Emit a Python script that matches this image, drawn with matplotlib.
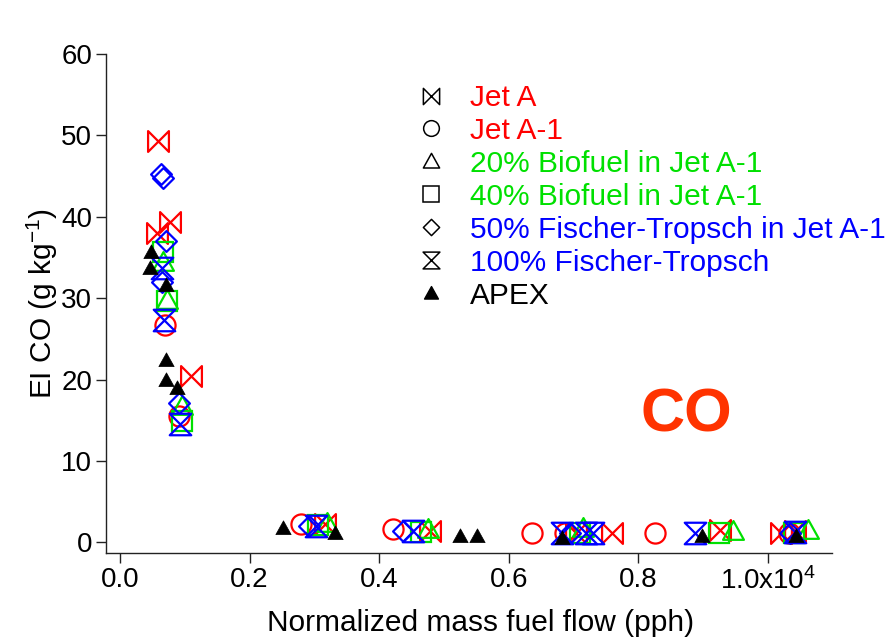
import matplotlib
matplotlib.use("Agg")
import matplotlib.pyplot as plt
from matplotlib.path import Path
from matplotlib.lines import Line2D
from matplotlib.ticker import FixedLocator, FuncFormatter

plt.rcParams['font.family'] = ['Liberation Sans', 'DejaVu Sans']
plt.rcParams['mathtext.fontset'] = 'custom'
plt.rcParams['mathtext.rm'] = 'Liberation Sans'
plt.rcParams['mathtext.it'] = 'Liberation Sans'

# fuel flow (pph) and EI CO (g/kg) for each fuel
jet_a_x = [586, 771, 576, 1091, 3163, 4783, 7046, 7587, 9259, 10210, 10415]
jet_a_y = [49.3, 39.4, 38.0, 20.4, 2.3, 1.35, 1.15, 1.15, 1.55, 1.15, 1.35]

jet_a1_x = [694, 916, 2788, 4217, 6352, 6867, 8256, 10330]
jet_a1_y = [26.7, 15.5, 2.3, 1.6, 1.15, 1.2, 1.15, 1.2]

bio20_x = [668, 720, 952, 3189, 4757, 7149, 9465, 10620]
bio20_y = [34.5, 29.8, 16.7, 2.4, 1.6, 1.75, 1.35, 1.55]

bio40_x = [668, 720, 952, 3055, 4650, 7098, 9248, 10400]
bio40_y = [35.7, 29.6, 14.9, 2.2, 1.3, 1.15, 1.1, 1.2]

ft50_x = [637, 668, 705, 643, 916, 2916, 4371, 6950, 10338]
ft50_y = [45.3, 44.8, 37.0, 32.0, 17.1, 2.0, 1.35, 1.15, 1.15]

ft100_x = [643, 684, 926, 3024, 4525, 6815, 7200, 7303, 8873, 10415]
ft100_y = [33.7, 27.3, 14.5, 2.0, 1.35, 1.15, 1.15, 1.15, 1.15, 1.25]

apex_x = [478, 463, 705, 705, 705, 884, 2510, 3317, 5246, 5503, 6815, 8976, 10440]
apex_y = [35.7, 33.7, 31.6, 22.4, 20.0, 19.0, 1.8, 1.15, 0.75, 0.75, 0.55, 0.75, 0.8]

x_ticks = [0, 2000, 4000, 6000, 8000, 10000]
y_ticks = [0, 10, 20, 30, 40, 50, 60]

RED = '#ff0000'
GREEN = '#00e000'
BLUE = '#0000ff'

# custom marker shapes
bowtie = Path([(-1, 1), (1, -1), (1, 1), (-1, -1), (-1, 1)],
              [Path.MOVETO, Path.LINETO, Path.LINETO, Path.LINETO, Path.CLOSEPOLY])
hourglass = Path([(-1, 1), (1, 1), (-1, -1), (1, -1), (-1, 1)],
                 [Path.MOVETO, Path.LINETO, Path.LINETO, Path.LINETO, Path.CLOSEPOLY])
diamond = Path([(0, 1), (1, 0), (0, -1), (-1, 0), (0, 1)],
               [Path.MOVETO, Path.LINETO, Path.LINETO, Path.LINETO, Path.CLOSEPOLY])
triangle = Path([(0, 1), (1, -0.8), (-1, -0.8), (0, 1)],
                [Path.MOVETO, Path.LINETO, Path.LINETO, Path.CLOSEPOLY])

series = [
    (jet_a_x, jet_a_y, bowtie, RED, 15, 'Jet A'),
    (jet_a1_x, jet_a1_y, 'o', RED, 14.5, 'Jet A-1'),
    (bio20_x, bio20_y, triangle, GREEN, 15, '20% Biofuel in Jet A-1'),
    (bio40_x, bio40_y, 's', GREEN, 14, '40% Biofuel in Jet A-1'),
    (ft50_x, ft50_y, diamond, BLUE, 15, '50% Fischer-Tropsch in Jet A-1'),
    (ft100_x, ft100_y, hourglass, BLUE, 15.5, '100% Fischer-Tropsch'),
]

fig = plt.figure(figsize=(8.9, 6.43), dpi=100)
ax = fig.add_axes([106 / 890, 1 - 553 / 643, 726 / 890, 499 / 643])

for xs, ys, mk, col, ms, lab in series:
    ax.plot(xs, ys, ls='none', marker=mk, ms=ms, mfc='none', mec=col, mew=1.6)
ax.plot(apex_x, apex_y, ls='none', marker=triangle, ms=11, mfc='black', mec='black', mew=0.5)

ax.set_xlim(-216, 10990)
ax.set_ylim(-1.3, 60)

for side in ['top', 'right']:
    ax.spines[side].set_visible(False)
for side in ['left', 'bottom']:
    ax.spines[side].set_linewidth(1.0)
    ax.spines[side].set_color('#222222')

ax.xaxis.set_major_locator(FixedLocator(x_ticks))
ax.yaxis.set_major_locator(FixedLocator(y_ticks))


def fmt_x(v, pos):
    if v == 10000:
        return r'1.0x10$^{4}$'
    return '%.1f' % (v / 10000)


ax.xaxis.set_major_formatter(FuncFormatter(fmt_x))
ax.tick_params(axis='both', direction='out', length=7, width=1.0, colors='#222222',
               labelsize=20, labelcolor='black', pad=3)

ax.set_xlabel('Normalized mass fuel flow (pph)', fontsize=21.5)
ax.xaxis.set_label_coords(0.516, -0.113)
ax.set_ylabel('EI CO (g kg$^{-1}$)', fontsize=21.5)
ax.yaxis.set_label_coords(-0.064, 0.5)

# legend: black symbols, coloured labels
handles = [Line2D([], [], ls='none', marker=mk, ms=ms * 0.78, mfc='none', mec='black', mew=1.1)
           for _, _, mk, _, ms, _ in series]
handles.append(Line2D([], [], ls='none', marker=triangle, ms=10, mfc='black', mec='black'))
labels = [s[5] for s in series] + ['APEX']
colors = [s[3] for s in series] + ['black']
ax.legend(handles, labels, labelcolor=colors, frameon=False, fontsize=21.5,
          loc='upper left', bbox_to_anchor=(310 / 726, (553 - 84) / 499),
          handlelength=1.0, handletextpad=0.8, labelspacing=0.165,
          borderpad=0, borderaxespad=0)

ax.text(0.799, 0.275, 'CO', transform=ax.transAxes, ha='center', va='center',
        fontsize=44, fontweight='bold', color='#ff3300')

fig.savefig('out.png', dpi=100)
